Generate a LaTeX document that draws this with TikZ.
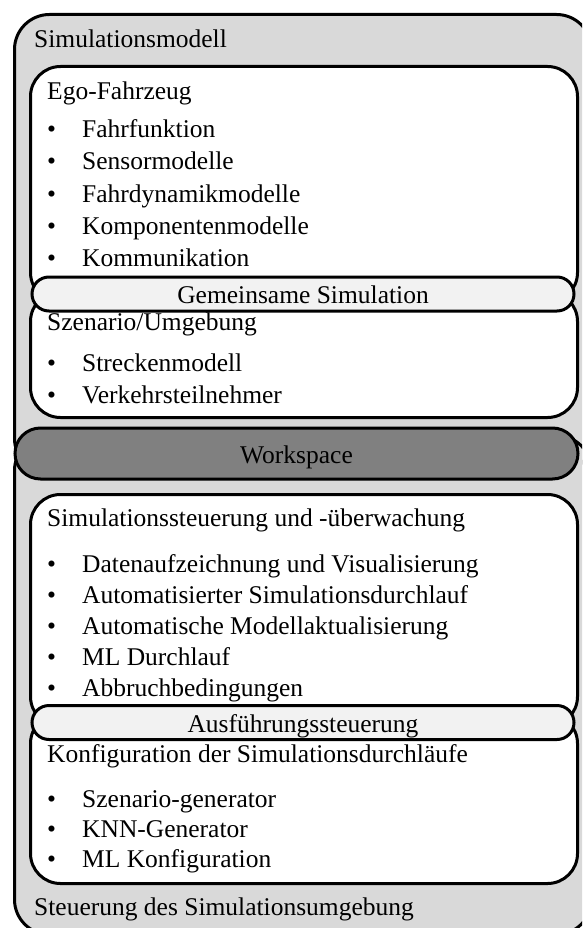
\documentclass[tikz,border=0pt]{standalone}
\usepackage{fontspec}
\setmainfont{Liberation Serif}
\usetikzlibrary{positioning}

\begin{document}
\begin{tikzpicture}[
x=1pt, y=-1pt,
outer/.style  ={rectangle, draw, line width=3pt, fill=gray!30, rounded corners=35pt, anchor=north west, inner sep=0pt, minimum width=577pt},
inner/.style  ={rectangle, draw, line width=3pt, fill=white, rounded corners=30pt, anchor=north west, inner sep=0pt, minimum width=547pt},
pill/.style   ={rectangle, draw, line width=3pt, fill=gray!10, rounded corners=17pt, minimum width=542pt, minimum height=34pt, inner sep=0pt, text height=24pt, text depth=5pt, font=\fontsize{25.5}{30}\selectfont},
label/.style  ={anchor=base west, inner sep=0pt, font=\fontsize{25.5}{30}\selectfont},
node distance=31pt,
]
\clip (0,0) rectangle (582,928);

% Define the boxes
\node[outer, minimum height=459pt] (sim)  at (13,13)  {};
\node[outer, minimum height=499pt] (steu) at (13,434) {};
\node[inner, minimum height=236pt] (ego)  at (29,65)  {};
\node[inner, minimum height=126pt] (szen) at (29,290) {};
\node[pill]                        (gem)  at (303,294) {Gemeinsame Simulation};
\node[pill, fill=gray, minimum width=563pt, minimum height=51pt, rounded corners=25.5pt] (ws) at (296.5,453.5) {Workspace};
\node[inner, minimum height=232pt] (ctl)  at (29,493) {};
\node[inner, minimum height=170pt] (konf) at (29,712) {};
\node[pill]                        (aus)  at (303,722.5) {Ausführungssteuerung};

% Define the labels
\node[label] (simlab)  at (34,48)  {Simulationsmodell};
\node[label] (steulab) at (34,915) {Steuerung des Simulationsumgebung};

\node[label] (egolab) at (47,100) {Ego-Fahrzeug};
\node[label, below=38pt of egolab.base west, anchor=base west] (e1) {\makebox[35pt][l]{\textbullet}Fahrfunktion};
\node[label, below=32pt of e1.base west, anchor=base west] (e2) {\makebox[35pt][l]{\textbullet}Sensormodelle};
\node[label, below=32pt of e2.base west, anchor=base west] (e3) {\makebox[35pt][l]{\textbullet}Fahrdynamikmodelle};
\node[label, below=32pt of e3.base west, anchor=base west] (e4) {\makebox[35pt][l]{\textbullet}Komponentenmodelle};
\node[label, below=32pt of e4.base west, anchor=base west] (e5) {\makebox[35pt][l]{\textbullet}Kommunikation};

\node[label] (szenlab) at (47,330) {Szenario/Umgebung};
\node[label, below=41pt of szenlab.base west, anchor=base west] (s1) {\makebox[35pt][l]{\textbullet}Streckenmodell};
\node[label, below=32pt of s1.base west, anchor=base west] (s2) {\makebox[35pt][l]{\textbullet}Verkehrsteilnehmer};

\node[label] (ctllab) at (47,526) {Simulationssteuerung und -überwachung};
\node[label, below=46pt of ctllab.base west, anchor=base west] (c1) {\makebox[35pt][l]{\textbullet}Datenaufzeichnung und Visualisierung};
\node[label, below=of c1.base west, anchor=base west] (c2) {\makebox[35pt][l]{\textbullet}Automatisierter Simulationsdurchlauf};
\node[label, below=of c2.base west, anchor=base west] (c3) {\makebox[35pt][l]{\textbullet}Automatische Modellaktualisierung};
\node[label, below=of c3.base west, anchor=base west] (c4) {\makebox[35pt][l]{\textbullet}ML Durchlauf};
\node[label, below=of c4.base west, anchor=base west] (c5) {\makebox[35pt][l]{\textbullet}Abbruchbedingungen};

\node[label] (konflab) at (47,762) {Konfiguration der Simulationsdurchläufe};
\node[label, below=45pt of konflab.base west, anchor=base west] (k1) {\makebox[35pt][l]{\textbullet}Szenario-generator};
\node[label, below=30pt of k1.base west, anchor=base west] (k2) {\makebox[35pt][l]{\textbullet}KNN-Generator};
\node[label, below=30pt of k2.base west, anchor=base west] (k3) {\makebox[35pt][l]{\textbullet}ML Konfiguration};

\end{tikzpicture}
\end{document}
